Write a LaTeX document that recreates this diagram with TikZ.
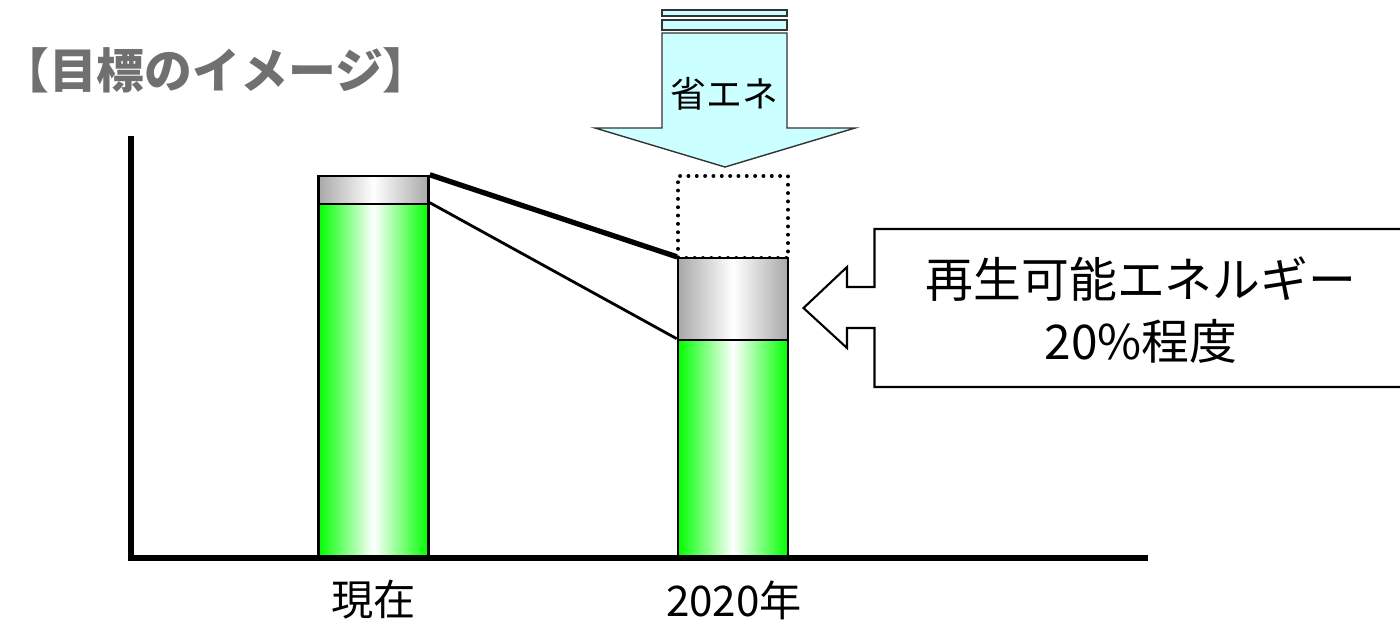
\documentclass[tikz,border=0pt]{standalone}
\usepackage{fontspec}
\newfontfamily\cjk{Noto Sans CJK JP}
\definecolor{barGreen}{RGB}{0,255,0}
\definecolor{barGray}{RGB}{168,168,168}
\definecolor{titleGray}{RGB}{112,112,112}
\definecolor{arrowCyan}{RGB}{204,255,255}
\begin{document}
\begin{tikzpicture}[x=0.01cm,y=-0.01cm,
  bar/.style={draw=black, line width=0.7pt, inner sep=0pt, minimum width=1.1cm},
  greenbar/.style={bar, left color=barGreen, right color=barGreen, middle color=white},
  graybar/.style={bar, left color=barGray, right color=barGray, middle color=white},
  dotbox/.style={draw=black, line width=1.1pt, line cap=round, dash pattern=on 0.01pt off 2.36pt, inner sep=0pt, minimum width=1.1cm},
  axisline/.style={draw=black, line width=1.75pt},
  thickconn/.style={draw=black, line width=1.5pt},
  thinconn/.style={draw=black, line width=0.8pt},
  cyanarrow/.style={draw=black!80, fill=arrowCyan, line width=0.4pt, line join=miter},
  callout/.style={draw=black, fill=white, line width=0.6pt, line join=miter},
  lbl/.style={inner sep=0pt, font=\cjk\fontsize{12}{14}\selectfont}
]
\useasboundingbox (0,0) rectangle (1400,620);

% title
\node[inner sep=0pt, text=titleGray, font=\cjk\bfseries\fontsize{13.6}{16}\selectfont] (title) at (216,70) {【目標のイメージ】};

% top arrow (energy saving)
\draw[cyanarrow] (662,10) rectangle (787,16);
\draw[cyanarrow] (662,20) rectangle (787,30);
\draw[cyanarrow] (662,33) -- (787,33) -- (787,128) -- (855,128) -- (725,167) -- (595,128) -- (662,128) -- cycle;
\node[inner sep=0pt, font=\cjk\fontsize{10.2}{12}\selectfont] (save) at (724.5,94) {省エネ};

% bars
\node[greenbar, minimum height=3.53cm] (v1) at (373.5,380.5) {};
\node[graybar, minimum height=0.28cm] (g1) at (373.5,190) {};
\node[dotbox, minimum height=0.82cm] (d2) at (733,217) {};
\node[greenbar, minimum height=2.17cm] (v2) at (733,448.5) {};
\node[graybar, minimum height=0.82cm] (g2) at (733,299) {};

% connectors
\draw[thickconn] (g1.north east) -- (g2.north west);
\draw[thinconn] (v1.north east) -- (v2.north west);

% axes
\coordinate (ytop) at (131,136);
\coordinate (orig) at (131,558);
\coordinate (xend) at (1148,558);
\draw[axisline] (ytop) -- (orig) -- (xend);

% axis labels
\node[lbl] (now) at (373.5,600) {現在};
\node[lbl] (y2020) at (734,600) {2020年};

% callout
\draw[callout] (1401,229) -- (874.5,229) -- (874.5,287) -- (847,287) -- (847,267) -- (803.5,308) -- (847,348) -- (847,328) -- (874.5,328) -- (874.5,387) -- (1401,387);
\node[inner sep=0pt, align=center, font=\cjk\fontsize{13.6}{17.4}\selectfont] (renew) at (1141,310) {再生可能エネルギー\\20\%程度};
\end{tikzpicture}
\end{document}
